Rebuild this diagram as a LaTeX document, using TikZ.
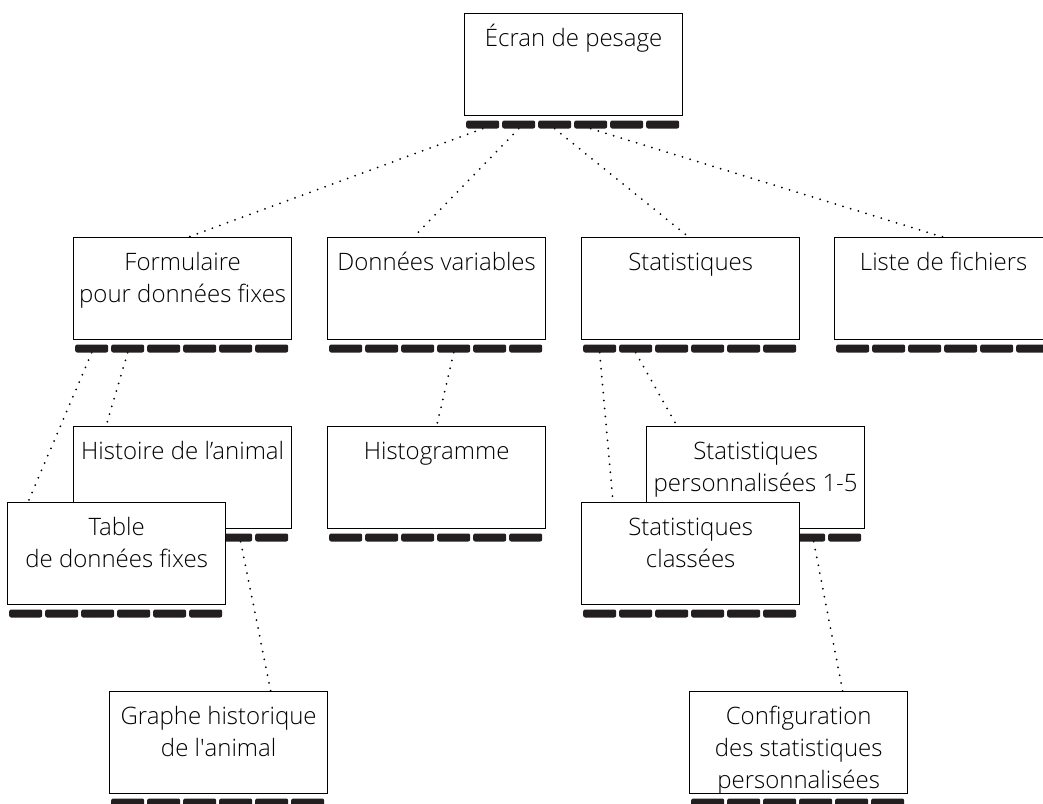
\documentclass[tikz,border=0pt]{standalone}
\usepackage{fontspec}
\setmainfont{Open Sans}[UprightFont={* Light}]
\usetikzlibrary{calc,backgrounds}
\definecolor{keyblack}{RGB}{35,31,32}
\tikzset{
  screenbox/.style={draw, line width=1.3pt, fill=white, minimum width=218pt,
    minimum height=102pt, inner sep=0pt, anchor=north west},
  softkey/.style={fill=keyblack, rounded corners=2pt, minimum width=33pt,
    minimum height=8pt, inner sep=0pt, anchor=north west},
  screentext/.style={align=center, anchor=north, inner sep=0pt,
    font=\fontsize{24}{32}\selectfont},
  link/.style={line width=2pt, line cap=round, dash pattern=on 0pt off 8pt},
}
% \screen{name}{left}{top}{text}: a display with its six soft keys
\newcommand\screen[4]{%
  \node[screenbox] (#1) at (#2,#3) {};
  \node[screentext] (#1-t) at ($(#1.north)+(0,9)$) {\rule{0pt}{24pt}#4};
  \foreach \k in {1,...,6}{
    \node[softkey] (#1-k\k) at ($(#1.south west)+({2+(\k-1)*36},4)$) {};
  }
}
\begin{document}
\begin{tikzpicture}[x=1pt,y=-1pt]
\useasboundingbox (0,0) rectangle (1043,803);

\screen{ecran}{464}{13}{Écran de pesage}
\screen{form}{73}{237}{Formulaire\\pour données fixes}
\screen{donnees}{327}{237}{Données variables}
\screen{stat}{581}{237}{Statistiques}
\screen{liste}{834}{237}{Liste de fichiers}
\screen{hist}{73}{426}{Histoire de l’animal}
\screen{table}{7}{502}{Table\\de données fixes}
\screen{histo}{327}{426}{Histogramme}
\screen{perso}{646}{426}{Statistiques\\personnalisées 1-5}
\screen{classees}{581}{502}{Statistiques\\classées}
\screen{graphe}{109}{691}{Graphe historique\\de l\textquotesingle animal}
\screen{config}{689}{691}{Configuration\\des statistiques\\personnalisées}

\begin{pgfonlayer}{background}
  \draw[link] (ecran-k1.south) -- ($(form.north)+(6,0)$);
  \draw[link] (ecran-k2.south) -- ($(donnees.north)+(-23,0)$);
  \draw[link] (ecran-k3.south) -- ($(stat.north)+(-2,0)$);
  \draw[link] (ecran-k4.south) -- ($(liste.north)+(-1,0)$);
  \draw[link] (form-k1.south) -- ($(table.north west)+(21,0)$);
  \draw[link] (form-k2.south) -- ($(hist.north west)+(33,0)$);
  \draw[link] ($(hist-k5.south)+(5,0)$) -- ($(graphe.north)+(52,0)$);
  \draw[link] (donnees-k4.south) -- (histo.north);
  \draw[link] (stat-k1.south) -- ($(classees.north west)+(32,0)$);
  \draw[link] (stat-k2.south) -- ($(perso.north west)+(31,0)$);
  \draw[link] ($(perso-k5.south)+(5,0)$) -- ($(config.north)+(44,0)$);
\end{pgfonlayer}
\end{tikzpicture}
\end{document}
